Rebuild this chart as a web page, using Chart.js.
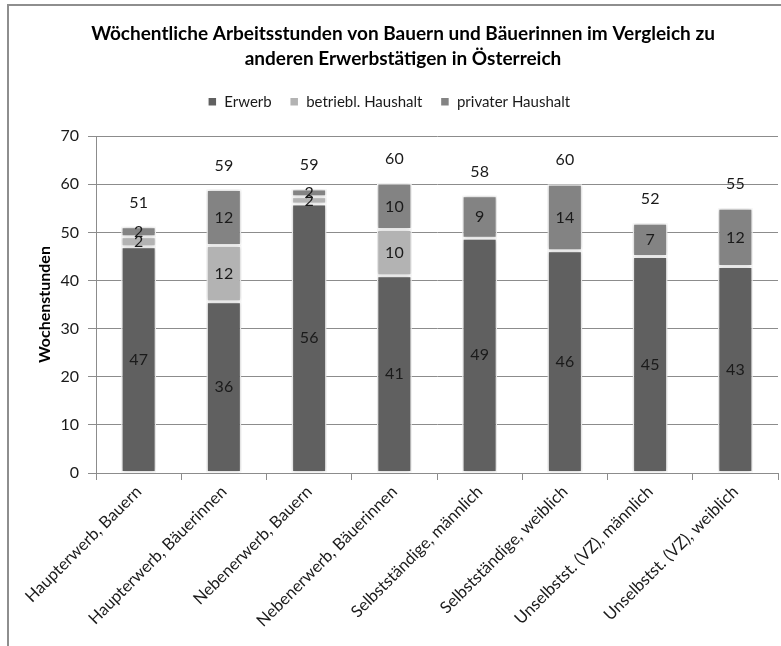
<!DOCTYPE html>
<html>
<head>
<meta charset="utf-8">
<script src="https://cdn.jsdelivr.net/npm/chart.js@4.4.0/dist/chart.umd.min.js"></script>
<style>
  html, body { margin: 0; padding: 0; background: #fff; }
  #wrap { position: relative; width: 781px; height: 646px; overflow: hidden; }
  #frame { position: absolute; left: 7px; top: 4px; width: 800px; height: 700px;
           border-top: 2px solid #8e8e8e; border-left: 2px solid #8e8e8e; }
  #chart { position: absolute; left: 0; top: 0; }
</style>
</head>
<body>
<div id="wrap">
  <div id="frame"></div>
  <canvas id="chart" width="781" height="646"></canvas>
</div>
<script>
// ---- data ----
const categories = [
  'Haupterwerb, Bauern', 'Haupterwerb, Bäuerinnen', 'Nebenerwerb, Bauern', 'Nebenerwerb, Bäuerinnen',
  'Selbstständige, männlich', 'Selbstständige, weiblich', 'Unselbstst. (VZ), männlich', 'Unselbstst. (VZ), weiblich'
];
const erwerb = [47, 35.6, 55.9, 41, 48.8, 46.2, 45, 42.9];
const betrieblHaushalt = [2.1, 11.7, 1.5, 9.6, 0, 0, 0, 0];
const privaterHaushalt = [2.1, 11.6, 1.6, 9.6, 8.8, 13.8, 6.9, 12.1];
const yMin = 0, yMax = 70, yStep = 10;
const titleLines = ['Wöchentliche Arbeitsstunden von Bauern und Bäuerinnen im Vergleich zu', 'anderen Erwerbstätigen in Österreich'];

const FONT = 'Lato, "Open Sans", sans-serif';

// ---- labels inside segments + totals above bars ----
const labelPlugin = {
  id: 'barLabels',
  afterDatasetsDraw(chart) {
    const ctx = chart.ctx;
    ctx.save();
    ctx.font = '16px ' + FONT;
    ctx.fillStyle = '#1a1a1a';
    ctx.textAlign = 'center';
    ctx.textBaseline = 'middle';
    chart.data.datasets.forEach((ds, i) => {
      const meta = chart.getDatasetMeta(i);
      meta.data.forEach((bar, j) => {
        const v = ds.data[j];
        if (!v || v < 0.5) return;
        ctx.fillText(Math.round(v), bar.x, (bar.y + bar.base) / 2);
      });
    });
    // totals
    const topMeta = chart.getDatasetMeta(chart.data.datasets.length - 1);
    categories.forEach((c, j) => {
      const total = erwerb[j] + betrieblHaushalt[j] + privaterHaushalt[j];
      const y = chart.scales.y.getPixelForValue(total);
      ctx.fillText(Math.round(total), topMeta.data[j].x, y - 24);
    });
    ctx.restore();
  }
};

// soft shadow round the bars
const shadowPlugin = {
  id: 'barShadow',
  beforeDatasetsDraw(chart) {
    const ctx = chart.ctx;
    ctx.save();
    ctx.shadowColor = 'rgba(0,0,0,0.25)';
    ctx.shadowBlur = 4;
  },
  afterDatasetsDraw(chart) {
    chart.ctx.restore();
  }
};

// extra room below the legend
const legendGap = {
  id: 'legendGap',
  beforeInit(chart) {
    const fit = chart.legend.fit;
    chart.legend.fit = function () {
      fit.bind(chart.legend)();
      this.height += 17;
    };
  }
};

// title sits a bit right of the canvas centre in the original
const titleText = {
  id: 'titleText',
  afterDraw(chart) {
    const ctx = chart.ctx;
    const top = chart.titleBlock.top + 21;
    ctx.save();
    ctx.font = 'bold 19px ' + FONT;
    ctx.fillStyle = '#000';
    ctx.textAlign = 'center';
    ctx.textBaseline = 'middle';
    titleLines.forEach((t, i) => ctx.fillText(t, 403, top + 25 * (i + 0.5)));
    ctx.restore();
  }
};

document.addEventListener('DOMContentLoaded', function () {
  const ctx = document.getElementById('chart');
  new Chart(ctx.getContext('2d'), {
    type: 'bar',
    data: {
      labels: categories,
      datasets: [
        { label: 'Erwerb', data: erwerb, backgroundColor: '#606060' },
        { label: 'betriebl. Haushalt', data: betrieblHaushalt, backgroundColor: '#b3b3b3' },
        { label: 'privater Haushalt', data: privaterHaushalt, backgroundColor: '#838383' }
      ].map(d => Object.assign(d, {
        borderColor: '#ffffff', borderWidth: 1.5, borderSkipped: false,
        barPercentage: 0.41, categoryPercentage: 1
      }))
    },
    options: {
      responsive: false,
      animation: false,
      devicePixelRatio: 1,
      layout: { padding: { left: 0, right: 3, top: 0, bottom: 0 } },
      scales: {
        x: {
          stacked: true,
          grid: { drawOnChartArea: false, color: '#8c8c8c', tickLength: 7 },
          border: { color: '#8c8c8c' },
          ticks: { color: '#1a1a1a', font: { size: 16.5, family: FONT }, minRotation: 45, maxRotation: 45, padding: 2 },
          afterFit(s) { s.height = 173; }
        },
        y: {
          stacked: true,
          min: yMin, max: yMax,
          grid: { color: '#8c8c8c', tickLength: 8 },
          border: { color: '#8c8c8c' },
          ticks: { stepSize: yStep, color: '#1a1a1a', font: { size: 16, family: FONT }, padding: 9 },
          title: { display: true, text: 'Wochenstunden', color: '#000', font: { size: 16, weight: 'bold', family: FONT }, padding: { top: 35, bottom: 0 } },
          afterFit(s) { s.width = 96; }
        }
      },
      plugins: {
        title: {
          // reserves the space; text itself drawn by titleText
          display: true,
          text: titleLines,
          color: 'rgba(0,0,0,0)',
          font: { size: 19, weight: 'bold', family: FONT, lineHeight: 1.32 },
          padding: { top: 21, bottom: 5 }
        },
        legend: {
          position: 'top',
          labels: { boxWidth: 9, boxHeight: 9, color: '#1a1a1a', padding: 18, font: { size: 15, family: FONT } }
        },
        tooltip: { enabled: false }
      }
    },
    plugins: [shadowPlugin, labelPlugin, legendGap, titleText]
  });
});
</script>
</body>
</html>
